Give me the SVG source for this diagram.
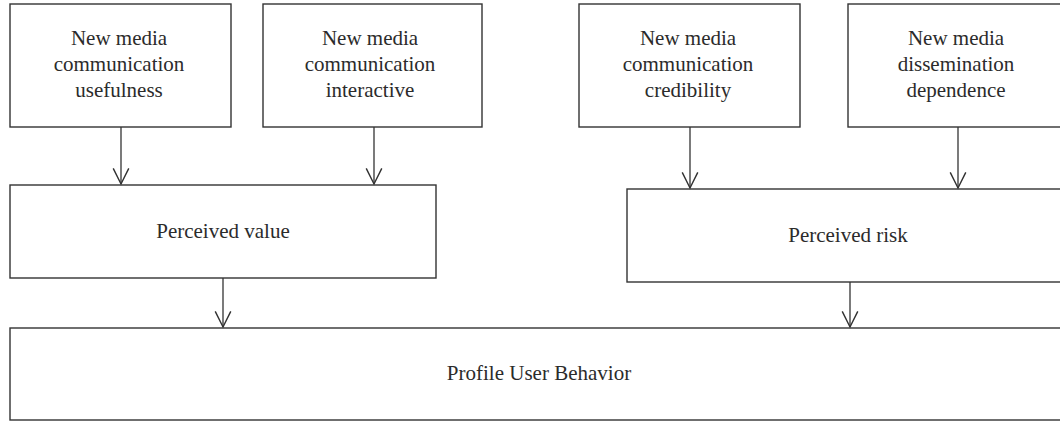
<svg xmlns="http://www.w3.org/2000/svg" width="1060" height="424" viewBox="0 0 1060 424">
<style>
.box{fill:#fff;stroke:#333;stroke-width:1.4}
.lbl{font-family:"Liberation Serif",serif;font-size:21px;fill:#2b2b2b;text-anchor:middle}
.conn{stroke:#333;stroke-width:1.3;fill:none}
</style>
<defs>
<marker id="arr" markerUnits="userSpaceOnUse" markerWidth="20" markerHeight="20" viewBox="-16 -9 18 18" refX="0" refY="0" orient="auto">
<path d="M-14,-7 L0,0 L-14,7" fill="none" stroke="#333" stroke-width="1.3"/>
</marker>
</defs>
<rect width="1060" height="424" fill="#fff"/>
<g id="n1"><rect class="box" x="10" y="4" width="221" height="123"/>
<text class="lbl"><tspan x="119" y="45">New media</tspan><tspan x="119" y="71">communication</tspan><tspan x="119" y="97">usefulness</tspan></text></g>
<g id="n2"><rect class="box" x="263" y="4" width="219" height="123"/>
<text class="lbl"><tspan x="370" y="45">New media</tspan><tspan x="370" y="71">communication</tspan><tspan x="370" y="97">interactive</tspan></text></g>
<g id="n3"><rect class="box" x="579" y="4" width="221" height="123"/>
<text class="lbl"><tspan x="688" y="45">New media</tspan><tspan x="688" y="71">communication</tspan><tspan x="688" y="97">credibility</tspan></text></g>
<g id="n4"><rect class="box" x="848" y="4" width="220" height="123"/>
<text class="lbl"><tspan x="956" y="45">New media</tspan><tspan x="956" y="71">dissemination</tspan><tspan x="956" y="97">dependence</tspan></text></g>
<g id="n5"><rect class="box" x="10" y="185" width="426" height="93"/>
<text class="lbl" x="223" y="238">Perceived value</text></g>
<g id="n6"><rect class="box" x="627" y="189" width="442" height="93"/>
<text class="lbl" x="848" y="242">Perceived risk</text></g>
<g id="n7"><rect class="box" x="10" y="328" width="1058" height="92"/>
<text class="lbl" x="539" y="380">Profile User Behavior</text></g>
<g id="connectors">
<line class="conn" x1="121" y1="127" x2="121" y2="184" marker-end="url(#arr)"/>
<line class="conn" x1="374" y1="127" x2="374" y2="184" marker-end="url(#arr)"/>
<line class="conn" x1="690" y1="127" x2="690" y2="188" marker-end="url(#arr)"/>
<line class="conn" x1="958" y1="127" x2="958" y2="188" marker-end="url(#arr)"/>
<line class="conn" x1="223" y1="278" x2="223" y2="327" marker-end="url(#arr)"/>
<line class="conn" x1="850" y1="282" x2="850" y2="327" marker-end="url(#arr)"/>
</g>
</svg>
